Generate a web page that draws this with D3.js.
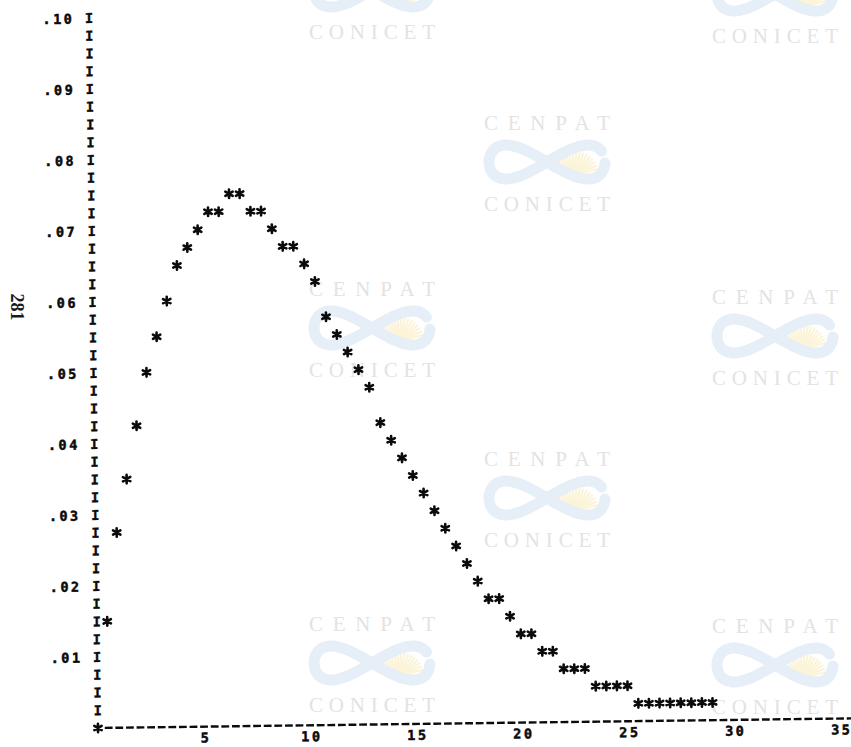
<!DOCTYPE html>
<html>
<head>
<meta charset="utf-8">
<script src="https://cdn.jsdelivr.net/npm/d3@7"></script>
<style>
html,body{margin:0;padding:0;background:#fff;overflow:hidden}
svg{display:block}
</style>
</head>
<body>
<svg id="chart" width="851" height="747"></svg>
<script>
// ---- data ----
const xValues = [0, 0.5, 1, 1.5, 2, 2.5, 3, 3.5, 4, 4.5, 5, 5.5, 6, 6.5, 7, 7.5, 8, 8.5, 9, 9.5,
  10, 10.5, 11, 11.5, 12, 12.5, 13, 13.5, 14, 14.5, 15, 15.5, 16, 16.5, 17, 17.5, 18, 18.5, 19, 19.5,
  20, 20.5, 21, 21.5, 22, 22.5, 23, 23.5, 24, 24.5, 25, 25.5, 26, 26.5, 27, 27.5, 28, 28.5, 29];
const yValues = [0, 0.015, 0.0275, 0.035, 0.0425, 0.05, 0.055, 0.06, 0.065, 0.0675, 0.07, 0.0725, 0.0725, 0.075, 0.075, 0.0725, 0.0725, 0.07, 0.0675, 0.0675,
  0.065, 0.0625, 0.0575, 0.055, 0.0525, 0.05, 0.0475, 0.0425, 0.04, 0.0375, 0.035, 0.0325, 0.03, 0.0275, 0.025, 0.0225, 0.02, 0.0175, 0.0175, 0.015,
  0.0125, 0.0125, 0.01, 0.01, 0.0075, 0.0075, 0.0075, 0.005, 0.005, 0.005, 0.005, 0.0025, 0.0025, 0.0025, 0.0025, 0.0025, 0.0025, 0.0025, 0.0025];
const yTickValues = [0.01, 0.02, 0.03, 0.04, 0.05, 0.06, 0.07, 0.08, 0.09, 0.10];
const yTickLabels = [".01", ".02", ".03", ".04", ".05", ".06", ".07", ".08", ".09", ".10"];
const yRowValues = [0.0025, 0.005, 0.0075, 0.01, 0.0125, 0.015, 0.0175, 0.02, 0.0225, 0.025,
  0.0275, 0.03, 0.0325, 0.035, 0.0375, 0.04, 0.0425, 0.045, 0.0475, 0.05,
  0.0525, 0.055, 0.0575, 0.06, 0.0625, 0.065, 0.0675, 0.07, 0.0725, 0.075,
  0.0775, 0.08, 0.0825, 0.085, 0.0875, 0.09, 0.0925, 0.095, 0.0975, 0.10];
const xTickValues = [5, 10, 15, 20, 25, 30, 35];
const xTickLabels = ["5", "10", "15", "20", "25", "30", "35"];
const pageNumber = "281";
const watermarkTop = "CENPAT";
const watermarkBottom = "CONICET";

// ---- layout ----
const W = 851, H = 747;
const ox = 98, oy = 728;          // plot origin
const pitch = 10.6;               // printer column width
const mono = "'DejaVu Sans Mono', 'Liberation Mono', monospace";
const ink = "#0b0b0b";

const svg = d3.select("#chart");
svg.append("rect").attr("width", W).attr("height", H).attr("fill", "#fff");

const x = d3.scaleLinear().domain([0, 35]).range([ox, 840]);
const y = d3.scaleLinear().domain([0, 0.1]).range([oy, 18]);

// ---- watermark layer (scan overlay) ----
const wmPlaces = [[372, -50], [372, 288], [372, 623], [547, 122], [547, 458], [775, -46], [775, 296], [775, 625]];
const wm = svg.append("g").attr("class", "watermarks");
wmPlaces.forEach(([cx, cy]) => {
  const g = wm.append("g");
  if (cy > 0) {
    g.append("text").attr("x", cx - 63).attr("y", cy).attr("dy", "0.36em")
      .attr("textLength", 126).attr("lengthAdjust", "spacing")
      .attr("font-family", "'Liberation Serif', 'DejaVu Serif', serif").attr("font-size", 21)
      .attr("fill", "#e3e3e3").text(watermarkTop);
  }
  const ly = cy + 40;
  // sunburst
  const sx = cx + 28, sy = ly + 13;
  d3.range(-168, -10, 9).forEach(a => {
    const r = a * Math.PI / 180;
    g.append("line").attr("x1", sx + 3 * Math.cos(r)).attr("y1", sy + 3 * Math.sin(r))
      .attr("x2", sx + 24 * Math.cos(r)).attr("y2", sy + 24 * Math.sin(r))
      .attr("stroke", "#fcf4d8").attr("stroke-width", 2.2);
  });
  // infinity swoosh
  const pts = d3.range(0.35, 2 * Math.PI + 0.01, 0.05).map(t => [cx + 58 * Math.cos(t), ly - 17 * Math.sin(2 * t)]);
  g.append("path").attr("d", d3.line().curve(d3.curveBasis)(pts))
    .attr("fill", "none").attr("stroke", "#e6eef7").attr("stroke-width", 11).attr("stroke-linecap", "round");
  g.append("text").attr("x", cx - 63).attr("y", cy + 81).attr("dy", "0.36em")
    .attr("textLength", 126).attr("lengthAdjust", "spacing")
    .attr("font-family", "'Liberation Serif', 'DejaVu Serif', serif").attr("font-size", 21)
    .attr("fill", "#e3e3e3").text(watermarkBottom);
});

// ---- page number ----
svg.append("text").attr("transform", "translate(17,307) rotate(90)")
  .attr("text-anchor", "middle").attr("dy", "0.35em")
  .attr("font-family", "'Liberation Serif', 'DejaVu Serif', serif").attr("font-weight", "bold")
  .attr("font-size", 18).attr("fill", "#1a1a1a").text(pageNumber);

// ---- printed plot (slightly rotated as in the scan) ----
const g = svg.append("g").attr("transform", `rotate(-0.73 ${ox} ${oy})`);
const fs = 13.5;

// y axis labels
const yAxis = d3.axisLeft(y).tickValues(yTickValues)
  .tickFormat((d, i) => yTickLabels[i]).tickSize(0).tickPadding(0);
const ya = g.append("g").attr("transform", `translate(${ox},0)`).call(yAxis);
ya.select(".domain").remove();
ya.selectAll(".tick text")
  .attr("font-family", mono).attr("font-weight", "bold").attr("font-size", fs)
  .attr("fill", ink).attr("stroke", ink).attr("stroke-width", 0.5)
  .attr("text-anchor", "middle").attr("dy", "0.36em")
  .attr("x", (d, i) => yTickLabels[i].split("").map((c, j, a) => -(a.length + 1 - j) * pitch).join(" "));

// y axis made of "I" characters
g.append("g").selectAll("text").data(yRowValues).join("text")
  .attr("x", ox).attr("y", d => y(d)).attr("dy", "0.36em")
  .attr("text-anchor", "middle")
  .attr("font-family", mono).attr("font-weight", "bold").attr("font-size", fs)
  .attr("fill", ink).attr("stroke", ink).attr("stroke-width", 0.4).text("I");

// x axis: dashed printer line
g.append("line").attr("x1", x(0.32)).attr("x2", x(36.6)).attr("y1", y(0)).attr("y2", y(0))
  .attr("stroke", ink).attr("stroke-width", 2.4).attr("stroke-dasharray", "7.8 2.8");

const xAxis = d3.axisBottom(x).tickValues(xTickValues)
  .tickFormat((d, i) => xTickLabels[i]).tickSize(0).tickPadding(0);
const xa = g.append("g").attr("transform", `translate(0,${oy})`).call(xAxis);
xa.select(".domain").remove();
xa.selectAll(".tick text")
  .attr("font-family", mono).attr("font-weight", "bold").attr("font-size", fs)
  .attr("fill", ink).attr("stroke", ink).attr("stroke-width", 0.5)
  .attr("text-anchor", "middle").attr("y", 11).attr("dy", "0.36em")
  .attr("x", (d, i) => xTickLabels[i].split("").map((c, j, a) => (j - (a.length - 1) / 2) * pitch).join(" "));

// asterisk marks
const asterisk = {
  draw(ctx, size) {
    const r = Math.sqrt(size) / 2;
    for (let k = 0; k < 3; k++) {
      const a = Math.PI / 2 + k * Math.PI / 3;
      ctx.moveTo(r * Math.cos(a), r * Math.sin(a));
      ctx.lineTo(-r * Math.cos(a), -r * Math.sin(a));
    }
  }
};
g.append("g").selectAll("path").data(xValues.map((v, i) => [v, yValues[i]])).join("path")
  .attr("transform", d => `translate(${x(d[0])},${y(d[1])})`)
  .attr("d", d3.symbol(asterisk, 72))
  .attr("fill", "none").attr("stroke", ink).attr("stroke-width", 2.6).attr("stroke-linecap", "round");
</script>
</body>
</html>
